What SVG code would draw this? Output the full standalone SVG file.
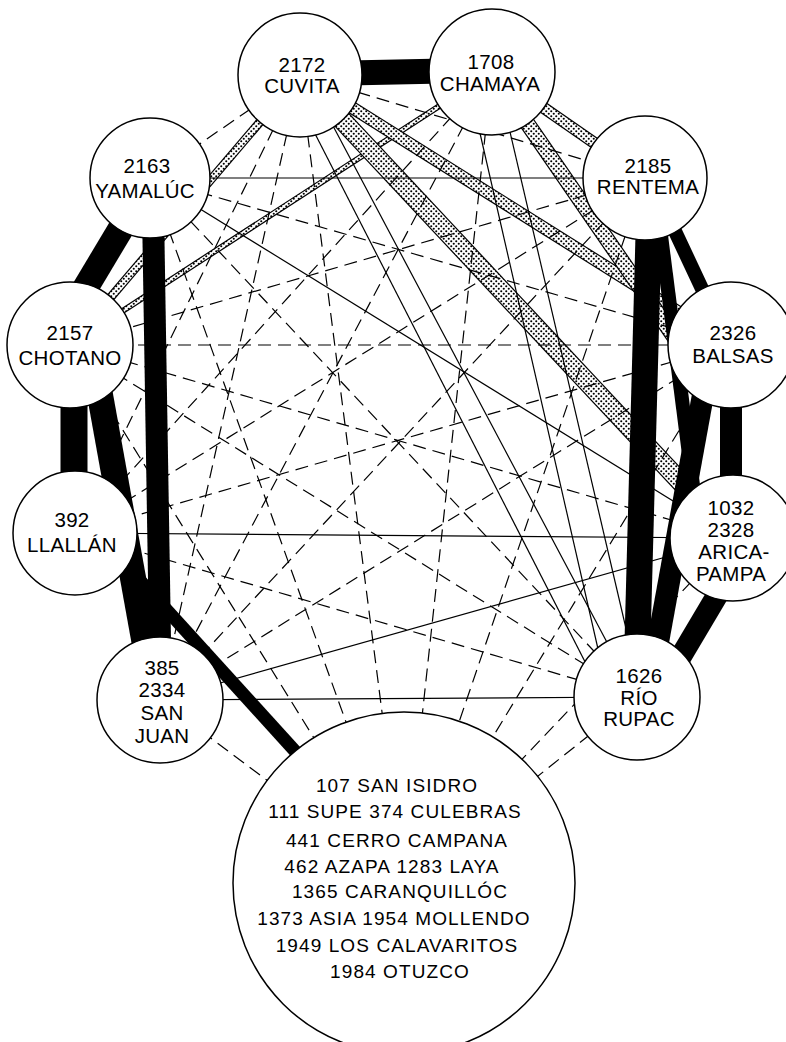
<svg xmlns="http://www.w3.org/2000/svg" width="786" height="1042" viewBox="0 0 786 1042">
<defs>
<pattern id="dots" patternUnits="userSpaceOnUse" width="5" height="5">
<rect width="5" height="5" fill="#fff"/>
<circle cx="1.25" cy="1.25" r="1.05" fill="#000"/>
<circle cx="3.75" cy="3.75" r="1.05" fill="#000"/>
</pattern>
</defs>
<style>
.n circle{fill:#fff;stroke:#000;stroke-width:1.5}
.n text{font-family:"Liberation Sans",Arial,sans-serif;font-size:20.5px;text-anchor:middle;fill:#000;letter-spacing:0.3px}
.g text{font-size:19px;letter-spacing:1.1px}
.t{stroke:#000;stroke-width:1.2;fill:none}
.d{stroke:#000;stroke-width:1.2;stroke-dasharray:13 7;fill:none}
.k{stroke:#000;fill:none}
.so{stroke:#000;fill:none}
.sf{stroke:url(#dots);fill:none}
</style>
<rect width="786" height="1042" fill="#fff"/>
<g id="connectors">
<line class="so" x1="300" y1="75" x2="70" y2="345" stroke-width="9"/><line class="sf" x1="300" y1="75" x2="70" y2="345" stroke-width="6.6"/>
<line class="so" x1="492" y1="72" x2="70" y2="345" stroke-width="6"/><line class="sf" x1="492" y1="72" x2="70" y2="345" stroke-width="3.6"/>
<line class="so" x1="300" y1="75" x2="731" y2="345" stroke-width="13"/><line class="sf" x1="300" y1="75" x2="731" y2="345" stroke-width="10.6"/>
<line class="so" x1="300" y1="75" x2="733" y2="538" stroke-width="20"/><line class="sf" x1="300" y1="75" x2="733" y2="538" stroke-width="17.6"/>
<line class="so" x1="492" y1="72" x2="645" y2="178" stroke-width="12"/><line class="sf" x1="492" y1="72" x2="645" y2="178" stroke-width="9.6"/>
<line class="so" x1="492" y1="72" x2="690" y2="360" stroke-width="16"/><line class="sf" x1="492" y1="72" x2="690" y2="360" stroke-width="13.6"/>
<line class="t" x1="285" y1="75" x2="603" y2="697"/><line class="t" x1="306" y1="75" x2="636" y2="697"/>
<line class="t" x1="466" y1="72" x2="609" y2="697"/><line class="t" x1="496" y1="72" x2="642" y2="697"/>
<line class="t" x1="150" y1="178" x2="645" y2="178"/>
<line class="t" x1="75" y1="533" x2="733" y2="538"/>
<line class="t" x1="160" y1="700" x2="733" y2="538" stroke-width="0.8"/>
<line class="t" x1="150" y1="178" x2="733" y2="538"/>
<line class="t" x1="160" y1="700" x2="637" y2="697"/>
<line class="d" x1="300" y1="75" x2="645" y2="178"/>
<line class="d" x1="300" y1="75" x2="404" y2="883"/>
<line class="d" x1="300" y1="75" x2="160" y2="700"/>
<line class="d" x1="300" y1="75" x2="75" y2="533"/>
<line class="d" x1="300" y1="75" x2="150" y2="178"/>
<line class="d" x1="492" y1="72" x2="404" y2="883"/>
<line class="d" x1="492" y1="72" x2="160" y2="700"/>
<line class="d" x1="492" y1="72" x2="75" y2="533"/>
<line class="d" x1="645" y1="178" x2="404" y2="883"/>
<line class="d" x1="645" y1="178" x2="160" y2="700"/>
<line class="d" x1="645" y1="178" x2="75" y2="533"/>
<line class="d" x1="645" y1="178" x2="70" y2="345"/>
<line class="d" x1="731" y1="345" x2="404" y2="883"/>
<line class="d" x1="731" y1="345" x2="160" y2="700"/>
<line class="d" x1="731" y1="345" x2="75" y2="533"/>
<line class="d" x1="731" y1="345" x2="70" y2="345"/>
<line class="d" x1="731" y1="345" x2="150" y2="178"/>
<line class="d" x1="733" y1="538" x2="404" y2="883"/>
<line class="d" x1="733" y1="538" x2="70" y2="345"/>
<line class="d" x1="637" y1="697" x2="404" y2="883"/>
<line class="d" x1="637" y1="697" x2="75" y2="533"/>
<line class="d" x1="637" y1="697" x2="70" y2="345"/>
<line class="d" x1="637" y1="697" x2="150" y2="178"/>
<line class="d" x1="404" y1="883" x2="160" y2="700"/>
<line class="d" x1="404" y1="883" x2="70" y2="345"/>
<line class="d" x1="404" y1="883" x2="150" y2="178"/>
<line class="k" x1="300" y1="74" x2="492" y2="70" stroke-width="25"/>
<line class="k" x1="138" y1="200" x2="62" y2="327" stroke-width="26"/>
<line class="k" x1="153" y1="210" x2="160" y2="640" stroke-width="22"/>
<line class="k" x1="74" y1="380" x2="74" y2="500" stroke-width="27"/>
<line class="k" x1="91" y1="345" x2="155" y2="700" stroke-width="26"/>
<line class="k" x1="75" y1="509" x2="404" y2="871" stroke-width="13"/>
<line class="k" x1="650" y1="180" x2="636" y2="697" stroke-width="26"/>
<line class="k" x1="659" y1="220" x2="700" y2="540" stroke-width="14"/>
<line class="k" x1="651" y1="180" x2="726" y2="340" stroke-width="14"/>
<line class="k" x1="731" y1="345" x2="731" y2="538" stroke-width="22"/>
<line class="k" x1="713" y1="340" x2="648" y2="697" stroke-width="22"/>
<line class="k" x1="750" y1="540" x2="655" y2="700" stroke-width="22"/>
</g>
<g id="cuvita" class="n"><circle cx="300" cy="75" r="62"/><text x="302" y="72">2172</text><text x="302" y="93">CUVITA</text></g>
<g id="chamaya" class="n"><circle cx="492" cy="72" r="63"/><text x="491" y="69">1708</text><text x="490" y="91">CHAMAYA</text></g>
<g id="rentema" class="n"><circle cx="645" cy="178" r="62"/><text x="648" y="173">2185</text><text x="648" y="194">RENTEMA</text></g>
<g id="balsas" class="n"><circle cx="731" cy="345" r="63"/><text x="733" y="340">2326</text><text x="733" y="363">BALSAS</text></g>
<g id="aricapampa" class="n"><circle cx="733" cy="538" r="63"/><text x="731" y="515">1032</text><text x="731" y="537">2328</text><text x="734" y="559">ARICA-</text><text x="731" y="581">PAMPA</text></g>
<g id="riorupac" class="n"><circle cx="637" cy="697" r="63"/><text x="639" y="683">1626</text><text x="639" y="705">RÍO</text><text x="639" y="726">RUPAC</text></g>
<g id="others" class="n g"><circle cx="404" cy="883" r="171"/>
<text x="397" y="792">107 SAN  ISIDRO</text>
<text x="395" y="818">111 SUPE 374 CULEBRAS</text>
<text x="397" y="847">441 CERRO CAMPANA</text>
<text x="392" y="873">462 AZAPA 1283 LAYA</text>
<text x="400" y="898">1365 CARANQUILLÓC</text>
<text x="394" y="925">1373 ASIA 1954 MOLLENDO</text>
<text x="397" y="952">1949 LOS  CALAVARITOS</text>
<text x="400" y="978">1984 OTUZCO</text>
</g>
<g id="sanjuan" class="n"><circle cx="160" cy="700" r="63"/><text x="162" y="675">385</text><text x="162" y="697">2334</text><text x="162" y="720">SAN</text><text x="162" y="743">JUAN</text></g>
<g id="llallan" class="n"><circle cx="75" cy="533" r="62"/><text x="72" y="527">392</text><text x="72" y="552">LLALLÁN</text></g>
<g id="chotano" class="n"><circle cx="70" cy="345" r="63"/><text x="70" y="340">2157</text><text x="70" y="365">CHOTANO</text></g>
<g id="yamaluc" class="n"><circle cx="150" cy="178" r="60"/><text x="147" y="173">2163</text><text x="145" y="198">YAMALÚC</text></g>
</svg>
